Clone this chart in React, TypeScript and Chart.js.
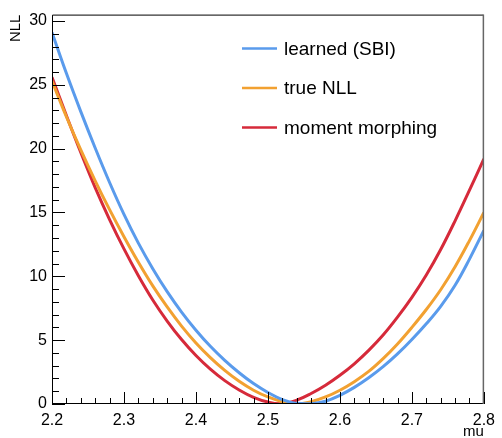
import React, { useEffect, useRef } from "react";
import { Chart, registerables } from "chart.js";

Chart.register(...registerables);

// ---- data ----
const muValues = [
  2.2, 2.22, 2.24, 2.26, 2.28, 2.3, 2.32, 2.34, 2.36, 2.38, 2.4, 2.42, 2.44, 2.46, 2.48, 2.5,
  2.52, 2.54, 2.56, 2.58, 2.6, 2.62, 2.64, 2.66, 2.68, 2.7, 2.72, 2.74, 2.76, 2.78, 2.8,
];
const learnedSBI = [
  29.1, 25.9, 22.9, 20.05, 17.35, 14.85, 12.6, 10.6, 8.8, 7.2, 5.78, 4.52, 3.42, 2.45, 1.6, 0.9,
  0.35, 0.05, 0.02, 0.22, 0.68, 1.3, 2.05, 2.92, 3.92, 5.05, 6.28, 7.65, 9.3, 11.35, 13.6,
];
const trueNLL = [
  25.3, 22.5, 19.9, 17.48, 15.22, 13.1, 11.1, 9.25, 7.6, 6.1, 4.78, 3.63, 2.63, 1.78, 1.08, 0.55,
  0.18, 0.0, 0.18, 0.55, 1.08, 1.75, 2.55, 3.55, 4.7, 6.0, 7.4, 8.95, 10.75, 12.8, 15.0,
];
const momentMorphing = [
  25.6, 22.6, 19.7, 16.95, 14.45, 12.15, 10.05, 8.15, 6.5, 5.05, 3.8, 2.73, 1.83, 1.1, 0.52, 0.15,
  0.03, 0.3, 0.82, 1.47, 2.25, 3.15, 4.2, 5.4, 6.8, 8.35, 10.1, 12.1, 14.35, 16.75, 19.2,
];
const seriesLabels = ["learned (SBI)", "true NLL", "moment morphing"];
const seriesColors = ["#5a9bec", "#f2a131", "#d62a3a"];
const xTicks = [2.2, 2.3, 2.4, 2.5, 2.6, 2.7, 2.8];
const yTicks = [0, 5, 10, 15, 20, 25, 30];
const xTitle = "mu";
const yTitle = "NLL";

const FONT = "'Liberation Sans', Arial, Helvetica, sans-serif";

const rootStyle = {
  id: "rootStyle",
  afterDatasetsDraw(chart: any) {
    const { ctx, chartArea: a, scales } = chart;
    const xs = scales.x;
    const ys = scales.y;
    ctx.save();
    // frame
    ctx.strokeStyle = "#000";
    ctx.lineWidth = 1;
    ctx.beginPath();
    ctx.moveTo(a.left + 0.5, a.top + 0.5);
    ctx.lineTo(a.right - 0.5, a.top + 0.5);
    ctx.moveTo(a.left + 0.5, a.top + 0.5);
    ctx.lineTo(a.left + 0.5, a.bottom - 0.5);
    ctx.lineTo(a.right - 0.5, a.bottom - 0.5);
    ctx.stroke();
    ctx.strokeStyle = "#666";
    ctx.lineWidth = 1.5;
    ctx.beginPath();
    ctx.moveTo(a.right - 0.5, a.top);
    ctx.lineTo(a.right - 0.5, a.bottom);
    ctx.stroke();

    // inner ticks
    ctx.strokeStyle = "#000";
    ctx.lineWidth = 1;
    ctx.beginPath();
    const xMin = xTicks[0];
    const xMax = xTicks[xTicks.length - 1];
    const xStep = 0.02;
    const nx = Math.round((xMax - xMin) / xStep);
    for (let i = 0; i <= nx; i++) {
      const v = xMin + i * xStep;
      const px = Math.round(xs.getPixelForValue(v)) + 0.5;
      const len = i % 5 === 0 ? 12 : 6;
      ctx.moveTo(px, a.bottom);
      ctx.lineTo(px, a.bottom - len);
    }
    const yMin = yTicks[0];
    const yMax = yTicks[yTicks.length - 1];
    const yStep = 1;
    const ny = Math.round((yMax - yMin) / yStep);
    for (let i = 0; i <= ny; i++) {
      const v = yMin + i * yStep;
      const py = Math.round(ys.getPixelForValue(v)) + 0.5;
      const len = i % 5 === 0 ? 13 : 7;
      ctx.moveTo(a.left, py);
      ctx.lineTo(a.left + len, py);
    }
    ctx.stroke();

    // legend
    const lx = a.left + 190;
    const ly = a.top + 34;
    const gap = 39.5;
    chart.data.datasets.forEach((ds: any, i: number) => {
      const yy = ly + i * gap;
      ctx.strokeStyle = ds.borderColor;
      ctx.lineWidth = 2.5;
      ctx.beginPath();
      ctx.moveTo(lx, yy);
      ctx.lineTo(lx + 35, yy);
      ctx.stroke();
      ctx.fillStyle = "#000";
      ctx.font = `19px ${FONT}`;
      ctx.textAlign = "left";
      ctx.textBaseline = "middle";
      ctx.fillText(ds.label, lx + 42, yy + 1);
    });
    ctx.restore();
  },
};

export default function App() {
  const canvasRef = useRef<HTMLCanvasElement | null>(null);

  useEffect(() => {
    document.body.style.margin = "0";
    const canvas = canvasRef.current;
    if (!canvas) return;
    const series = [learnedSBI, trueNLL, momentMorphing];
    const chart = new Chart(canvas, {
      type: "line",
      data: {
        datasets: series.map((vals, i) => ({
          label: seriesLabels[i],
          data: muValues.map((m, j) => ({ x: m, y: vals[j] })),
          borderColor: seriesColors[i],
          backgroundColor: seriesColors[i],
          borderWidth: 3,
          pointRadius: 0,
          tension: 0.4,
          fill: false,
        })),
      },
      options: {
        animation: false,
        responsive: false,
        devicePixelRatio: 1,
        events: [],
        layout: { padding: { left: 0, right: 11, top: 9, bottom: 0 } },
        plugins: {
          legend: { display: false },
          tooltip: { enabled: false },
        },
        scales: {
          x: {
            type: "linear",
            min: 2.2,
            max: 2.8,
            grid: { display: false, drawTicks: false },
            border: { display: false },
            afterBuildTicks: (scale: any) => {
              scale.ticks = xTicks.map((v) => ({ value: v }));
            },
            afterFit: (scale: any) => {
              scale.height = 34;
            },
            ticks: {
              padding: 7,
              color: "#000",
              font: { family: FONT, size: 16 },
              maxRotation: 0,
              autoSkip: false,
              callback: (v: any) => Number(v).toFixed(1),
            },
            title: {
              display: true,
              text: xTitle,
              align: "end",
              color: "#000",
              font: { family: FONT, size: 15, lineHeight: 0.8 },
              padding: { top: 0, bottom: 0 },
            },
          },
          y: {
            type: "linear",
            min: 0,
            max: 30.5,
            grid: { display: false, drawTicks: false },
            border: { display: false },
            afterBuildTicks: (scale: any) => {
              scale.ticks = yTicks.map((v) => ({ value: v }));
            },
            afterFit: (scale: any) => {
              scale.width = 52;
            },
            ticks: {
              padding: 5,
              color: "#000",
              font: { family: FONT, size: 16 },
              autoSkip: false,
              callback: (v: any) => String(v),
            },
            title: {
              display: true,
              text: yTitle,
              align: "end",
              color: "#000",
              font: { family: FONT, size: 15, lineHeight: 1.2 },
              padding: { top: 7, bottom: 0 },
            },
          },
        },
      },
      plugins: [rootStyle],
    });
    return () => chart.destroy();
  }, []);

  return (
    <div style={{ width: 502, height: 438, background: "#fff" }}>
      <canvas ref={canvasRef} width={502} height={438} style={{ display: "block" }} />
    </div>
  );
}
